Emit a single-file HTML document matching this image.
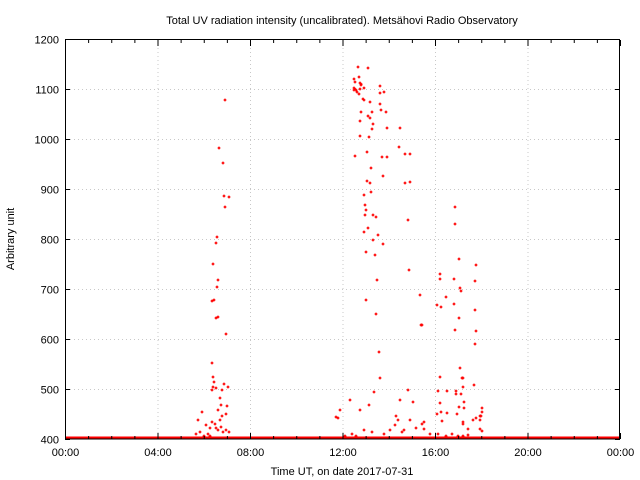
<!DOCTYPE html>
<html><head><meta charset="utf-8"><style>
html,body{margin:0;padding:0;background:#fff;}
svg{display:block;font-family:"Liberation Sans","DejaVu Sans",sans-serif;}
</style></head><body>
<svg id="s" width="640" height="480" viewBox="0 0 640 480" xmlns="http://www.w3.org/2000/svg">
<rect width="640" height="480" fill="#fff"/>
<g id="grid" stroke="#c8c8c8" stroke-width="1" stroke-dasharray="1,3"></g>
<g id="pts" fill="#ff0000"></g>
<rect x="65" y="436.5" width="555" height="3" fill="#ff0000"/>
<rect x="65.5" y="39.5" width="554" height="399.5" fill="none" stroke="#000" stroke-width="1"/>
<g id="ticks" stroke="#000" stroke-width="1"></g>
<g id="labels" font-size="11" fill="#000"></g>
<text x="342" y="24" font-size="11" text-anchor="middle">Total UV radiation intensity (uncalibrated). Metsähovi Radio Observatory</text>
<text x="342" y="475" font-size="11" text-anchor="middle">Time UT, on date 2017-07-31</text>
<text transform="translate(14,239) rotate(-90)" font-size="11" text-anchor="middle">Arbitrary unit</text>
</svg>
<script>
var NS="http://www.w3.org/2000/svg";
function el(p,t,a,txt){var e=document.createElementNS(NS,t);for(var k in a)e.setAttribute(k,a[k]);if(txt)e.textContent=txt;document.getElementById(p).appendChild(e);}
for(var i=0;i<=8;i++){var y=39.5+i*50;
 if(i>0&&i<8)el("grid","line",{x1:66,x2:619,y1:y,y2:y});
 el("ticks","line",{x1:65,x2:70,y1:y,y2:y});el("ticks","line",{x1:615,x2:620,y1:y,y2:y});
 el("labels","text",{x:59,y:y+4,"text-anchor":"end"},String(1200-i*100));}
var xl=["00:00","04:00","08:00","12:00","16:00","20:00","00:00"];
for(var i=0;i<=6;i++){var x=65.5+i*92.5;
 if(i>0&&i<6)el("grid","line",{x1:x,x2:x,y1:40,y2:438});
 el("ticks","line",{x1:x,x2:x,y1:439,y2:433});el("ticks","line",{x1:x,x2:x,y1:40,y2:46});
 el("labels","text",{x:x,y:456,"text-anchor":"middle"},xl[i]);}
for(var h=1;h<24;h++){if(h%4==0)continue;var x=65.5+h*23.125;el("ticks","line",{x1:x,x2:x,y1:439,y2:436});el("ticks","line",{x1:x,x2:x,y1:40,y2:43});}
var P=[[225,100],[219,148],[223,163],[224,196],[229,197],[225,207],[217,237],[213,264],[216,243],[218,280],[217,287],[214,300],[212,301],[216,318],[218,317],[226,334],[212,363],[213,377],[214,382],[213,387],[212,390],[216,388],[224,384],[222,390],[228,387],[227,406],[226,414],[220,398],[221,405],[218,410],[222,416],[220,420],[215,424],[216,428],[218,430],[221,427],[223,432],[212,422],[210,428],[206,425],[202,412],[198,420],[200,432],[198,438],[204,436],[210,436],[226,430],[229,432],[196,434],[208,434],
[358,67],[368,68],[354,79],[359,77],[360,83],[355,82],[361,84],[356,90],[361,85],[360,89],[354,88],[357,92],[380,86],[364,88],[355,89],[354,90],[380,93],[384,92],[359,94],[363,99],[364,100],[370,102],[380,104],[361,112],[372,112],[381,110],[386,112],[368,116],[370,118],[360,121],[373,124],[372,129],[387,128],[400,128],[360,136],[369,137],[399,147],[355,156],[367,152],[405,154],[410,154],[382,157],[387,157],[371,168],[383,176],[367,181],[370,183],[410,182],[371,192],[364,195],[365,205],[366,210],[365,215],[373,215],[368,228],[364,232],[378,235],[383,244],[375,255],[377,280],[376,314],[379,352],[380,378],[366,252],[373,240],[376,217],[366,300],[374,392],[369,405],[360,410],[350,400],[336,417],[338,418],[340,410],[364,430],[352,434],[345,436],[356,436],[372,432],[384,434],[390,430],[395,425],[402,432],[398,420],
[405,183],[408,220],[409,270],[420,295],[421,325],[408,390],[413,402],[400,400],[396,416],[410,420],[416,428],[404,430],
[455,207],[455,224],[459,259],[476,265],[440,274],[440,279],[454,279],[475,281],[460,288],[461,291],[446,297],[437,305],[441,307],[454,304],[459,318],[475,310],[422,325],[455,330],[476,331],[475,344],[460,368],[440,377],[462,378],[463,378],[474,385],[438,391],[456,391],[447,391],[463,387],[456,394],[461,394],[440,403],[464,402],[441,412],[447,413],[459,407],[464,408],[482,408],[482,412],[481,416],[480,420],[437,414],[442,421],[457,414],[463,422],[473,420],[476,418],[480,416],[463,424],[468,429],[480,429],[482,431],[422,424],[424,422],[424,429],[438,434],[446,436],[458,436],[463,436],[468,435],[430,434],[452,434]];
for(var i=0;i<P.length;i++){var x=P[i][0],y=P[i][1];
 el("pts","rect",{x:x-1.5,y:y-0.5,width:3,height:1});el("pts","rect",{x:x-0.5,y:y-1.5,width:1,height:3});
 el("pts","rect",{x:x-1,y:y-1,width:2,height:2,opacity:0.6});}
</script>
</body></html>
